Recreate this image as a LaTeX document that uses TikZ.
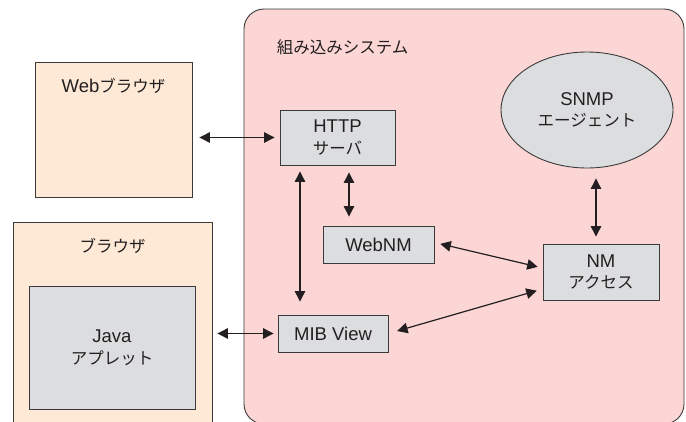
\documentclass[tikz,border=0pt]{standalone}
\usepackage{fontspec}
\setmainfont{Liberation Sans}
\newfontfamily\jpfont{Noto Sans CJK JP}
\usetikzlibrary{arrows.meta,shapes.geometric}
\newcommand\jtext[1]{{\jpfont\fontsize{16.5}{21.5}\selectfont #1}}
\definecolor{syspink}{HTML}{FCD5D5}
\definecolor{peach}{HTML}{FDE9D6}
\definecolor{boxgray}{HTML}{DCDDDF}
\definecolor{edge}{HTML}{3A3A3A}
\definecolor{ink}{HTML}{231F20}
\tikzset{
  base/.style={draw=edge, line width=0.9pt, inner sep=0pt, text=ink,
    font=\fontsize{18.5}{21.5}\selectfont, align=center},
  outerbox/.style={base, rectangle, fill=peach},
  module/.style={base, rectangle, fill=boxgray},
  lbl/.style={inner sep=0pt, text=ink, font=\fontsize{18.5}{21.5}\selectfont},
  biarrow/.style={draw=ink, line width=1.2pt,
    {Triangle[length=10.5pt,width=10.5pt]}-{Triangle[length=10.5pt,width=10.5pt]}}
}
\begin{document}
\begin{tikzpicture}[x=1pt,y=-1pt]
\useasboundingbox (0,0) rectangle (686,421);
\fill[white] (0,0) rectangle (686,421);

% embedded system area
\node[base, fill=syspink, rounded corners=20pt, minimum width=440pt,
      minimum height=415pt] (sys) at (464,216.5) {};
\node[lbl, anchor=west] (syslbl) at ([xshift=33pt,yshift=-39pt]sys.north west)
      {\jtext{組み込みシステム}};

% client side
\node[outerbox, minimum width=157pt, minimum height=135pt] (web) at (113.5,129.5) {};
\node[lbl] (weblbl) at ([yshift=-24pt]web.north) {Web\jtext{ブラウザ}};
\node[outerbox, minimum width=199pt, minimum height=218pt] (browser) at (112.5,331) {};
\node[lbl] (browserlbl) at ([yshift=-24pt]browser.north) {\jtext{ブラウザ}};
\node[module, minimum width=166pt, minimum height=123pt] (java) at (112,347.5)
      {Java\\\jtext{アプレット}};

% modules of the embedded system
\node[module, minimum width=115pt, minimum height=55pt] (http) at (337.5,137.5)
      {HTTP\\\jtext{サーバ}};
\node[module, minimum width=111pt, minimum height=37pt] (webnm) at (378.5,244.5) {WebNM};
\node[module, minimum width=110pt, minimum height=37pt] (mib) at (333,333.5) {MIB View};
\node[module, minimum width=116pt, minimum height=56pt] (nm) at (601,272)
      {NM\\\jtext{アクセス}};
\node[module, ellipse, minimum width=172pt, minimum height=116pt] (snmp) at (587,110)
      {SNMP\\\jtext{エージェント}};

% connections
\draw[biarrow, shorten <=7pt, shorten >=5pt] (web.east |- http.west) -- (http.west);
\draw[biarrow, shorten <=5pt, shorten >=4pt] (browser.east |- mib.west) -- (mib.west);
\draw[biarrow, shorten <=6pt, shorten >=13pt]
  ([xshift=-37.5pt]http.south) -- ([xshift=-37.5pt]http.south |- mib.north);
\draw[biarrow, shorten <=7pt, shorten >=9pt]
  ([xshift=11.5pt]http.south) -- ([xshift=11.5pt]http.south |- webnm.north);
\draw[biarrow, shorten <=10pt, shorten >=7pt]
  ([xshift=9pt]snmp.south) -- ([xshift=9pt]snmp.south |- nm.north);
\draw[biarrow, shorten <=6pt, shorten >=5pt]
  ([yshift=2pt]webnm.east) -- ([yshift=4pt]nm.west);
\draw[biarrow, shorten <=9pt, shorten >=6pt]
  (mib.east) -- ([yshift=-17pt]nm.west);
\end{tikzpicture}
\end{document}
